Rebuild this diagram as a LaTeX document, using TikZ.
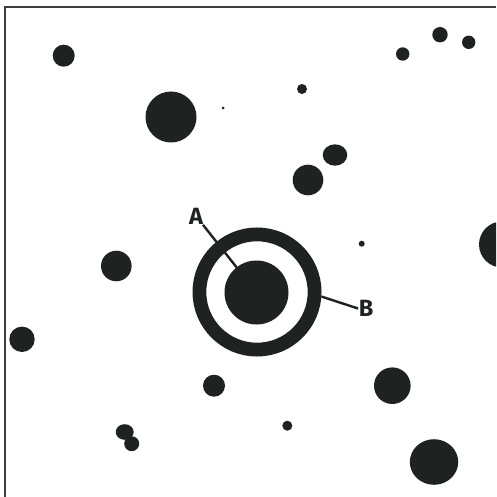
\documentclass[tikz,border=0pt]{standalone}
\usepackage{fontspec}
\setmainfont{Fira Sans}
\usetikzlibrary{shapes.geometric}
\definecolor{ink}{RGB}{30,35,33}
\definecolor{framegray}{RGB}{60,62,62}
\tikzset{
  blob/.style={circle, fill=ink, draw=none, inner sep=0pt, outer sep=0pt, minimum size=#1},
  oval/.style={ellipse, fill=ink, draw=none, inner sep=0pt, outer sep=0pt},
  lbl/.style={font=\fontsize{23.5}{23.5}\selectfont\bfseries, text=ink, inner sep=0.5pt},
  leader/.style={draw=ink, line width=2.4pt},
}
\begin{document}
\begin{tikzpicture}[x=1pt,y=-1pt]
\useasboundingbox (0,0) rectangle (496,497);
\fill[white] (0,0) rectangle (496,497);
\clip (0,0) rectangle (496,497);
% frame
\coordinate (fbl) at (5,497);
\coordinate (ftl) at (5,7.5);
\coordinate (ftr) at (496,7.5);
\draw[framegray, line width=2pt] (fbl) -- (ftl) -- (ftr);
% scattered dots
\node[blob=22]   (d1)  at (63.7,55.7) {};
\node[blob=51]   (d2)  at (171,117) {};
\node[blob=3]    (d3)  at (223,108) {};
\node[blob=10]   (d4)  at (302,89) {};
\node[blob=13.4] (d5)  at (402.7,54) {};
\node[blob=15.4] (d6)  at (440,34.7) {};
\node[blob=13.4] (d7)  at (468.7,42.3) {};
\node[oval, minimum width=24.6, minimum height=21.4] (d8) at (335,155) {};
\node[blob=30.6] (d9)  at (308,180) {};
\node[blob=6]    (d10) at (361.7,243.7) {};
\node[blob=46]   (d11) at (502,244.5) {};
\node[blob=30.6] (d12) at (116.3,266) {};
\node[blob=25.4] (d13) at (22,339.3) {};
\node[blob=22]   (d14) at (214,385.7) {};
\node[blob=36.6] (d15) at (392.3,385.7) {};
\node[blob=10]   (d16) at (287.3,425.7) {};
\node[oval, minimum width=18, minimum height=15.6] (d17) at (124.7,432) {};
\node[blob=15]   (d18) at (131.7,443.7) {};
\node[oval, minimum width=48.4, minimum height=45.6] (d19) at (434,462) {};
% target
\node[circle, draw=ink, line width=13.8pt, minimum size=115.2pt, inner sep=0pt] (outer) at (257,292) {};
\node[blob=64] (inner) at (256.5,292.5) {};
% labels
\node[lbl] (A) at (196,216) {A};
\node[lbl] (B) at (366,308.5) {B};
\draw[leader] (A) -- (inner);
\draw[leader] (outer.-4) -- (B.west);
\end{tikzpicture}
\end{document}
